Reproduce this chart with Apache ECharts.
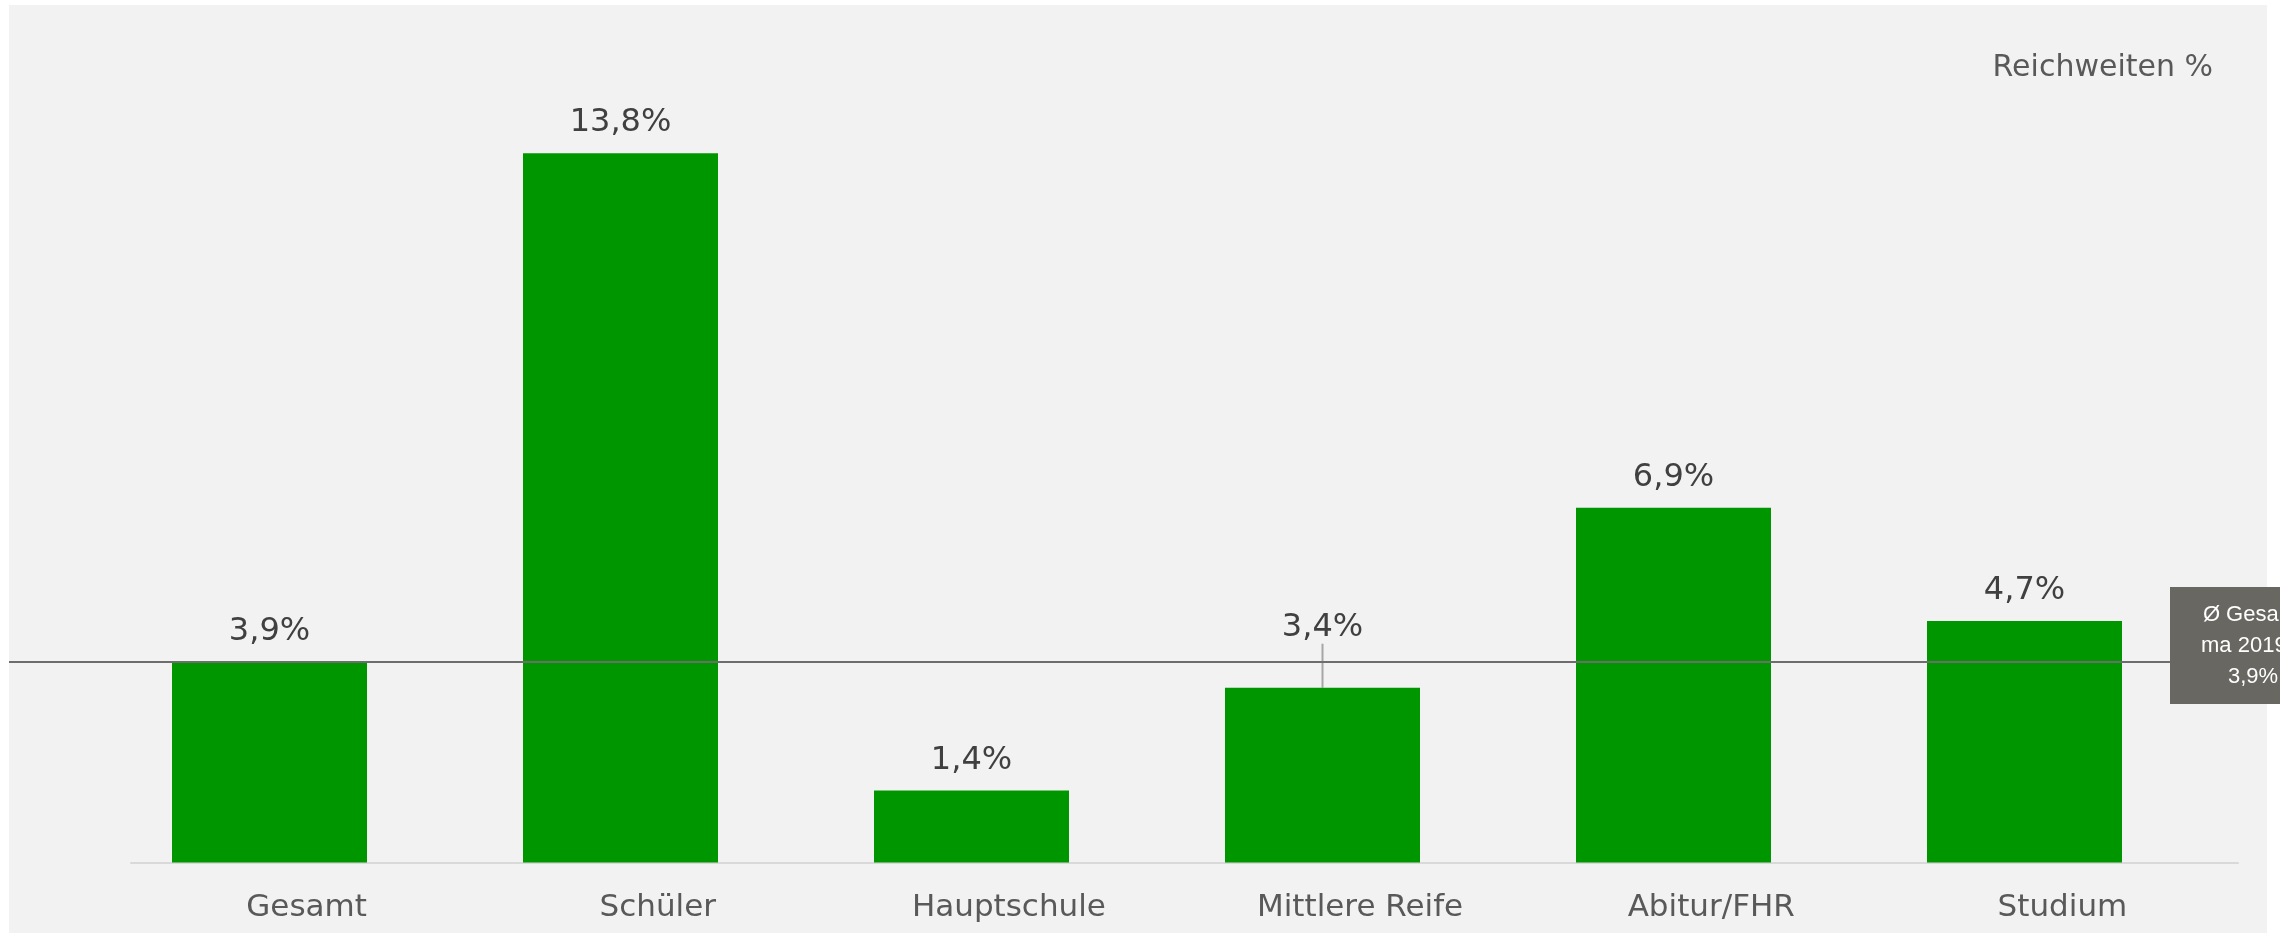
<!DOCTYPE html>
<html>
<head>
<meta charset="utf-8">
<script src="https://cdn.jsdelivr.net/npm/echarts@6/dist/echarts.min.js"></script>
<style>
  html, body { margin: 0; padding: 0; background: #ffffff; }
  #chart { width: 2280px; height: 934px; }
</style>
</head>
<body>
<div id="chart"></div>
<script>
// Reichweiten nach Bildung
const categories = ['Gesamt', 'Schüler', 'Hauptschule', 'Mittlere Reife', 'Abitur/FHR', 'Studium'];
const reach = [3.9, 13.8, 1.4, 3.4, 6.9, 4.7];
const averageValue = 3.9;
const averageText = ['Ø Gesamt', 'ma 2019 II'];
const unitTitle = 'Reichweiten %';
const liftedLabel = 'Mittlere Reife';

const fmt = v => v.toFixed(1).replace('.', ',') + '%';
const textFont = 'DejaVu Sans';

// the label of the lifted category gets a leader line down to its bar
const barData = reach.map((v, i) => {
  if (categories[i] === liftedLabel) {
    return {
      value: v,
      labelLine: { show: true, lineStyle: { color: '#a6a6a6', width: 2 } }
    };
  }
  return v;
});

const chart = echarts.init(document.getElementById('chart'), null, { renderer: 'canvas' });

chart.setOption({
  animation: false,
  backgroundColor: 'transparent',
  textStyle: { fontFamily: textFont },
  title: {
    text: unitTitle,
    right: 67,
    top: 53,
    padding: 0,
    textStyle: { fontFamily: textFont, fontSize: 30, fontWeight: 'normal', color: '#595959' }
  },
  graphic: [{
    type: 'rect',
    z: -10,
    shape: { x: 9, y: 5, width: 2258, height: 928 },
    style: { fill: '#f2f2f2' },
    silent: true
  }],
  grid: [
    { left: 94, right: 80, top: 91.5, bottom: 71.5 },
    { left: 131, right: 42, top: 91.5, bottom: 71.5 }
  ],
  xAxis: [
    { type: 'category', gridIndex: 0, data: categories, show: false },
    {
      type: 'category', gridIndex: 1, data: categories,
      axisLine: { show: true, lineStyle: { color: '#d9d9d9', width: 2 } },
      axisTick: { show: false },
      axisLabel: { fontFamily: textFont, fontSize: 31, color: '#595959', margin: 30, interval: 0 }
    }
  ],
  yAxis: [
    { type: 'value', gridIndex: 0, min: 0, max: 15, show: false, splitLine: { show: false } },
    { type: 'value', gridIndex: 1, min: 0, max: 15, show: false, splitLine: { show: false } }
  ],
  series: [{
    type: 'bar',
    xAxisIndex: 0,
    yAxisIndex: 0,
    data: barData,
    barWidth: 195,
    clip: false,
    itemStyle: { color: '#009600' },
    label: {
      show: true,
      position: 'top',
      distance: 14,
      fontFamily: textFont,
      fontSize: 32,
      color: '#404040',
      formatter: p => fmt(p.value)
    },
    labelLayout: p => (categories[p.dataIndex] === liftedLabel ? { dy: -30 } : {}),
    emphasis: { disabled: true },
    markLine: {
      silent: true,
      symbol: ['none', 'none'],
      label: { show: false },
      lineStyle: { color: '#6d6d6d', width: 2, type: 'solid' },
      emphasis: { disabled: true },
      data: [[
        { xAxis: 0, yAxis: averageValue, x: 9 },
        { xAxis: 5, yAxis: averageValue, x: 2170 }
      ]]
    },
    markPoint: {
      silent: true,
      symbol: 'rect',
      symbolSize: [166, 117],
      symbolOffset: [83, -16.5],
      itemStyle: { color: '#686762' },
      label: {
        show: true,
        position: 'inside',
        color: '#ffffff',
        fontFamily: 'Liberation Sans',
        fontSize: 22,
        lineHeight: 31,
        align: 'center',
        formatter: () => averageText.join('\n') + '\n' + fmt(averageValue)
      },
      emphasis: { disabled: true },
      data: [{ xAxis: 5, yAxis: averageValue, x: 2170, value: averageValue }]
    }
  }]
});
</script>
</body>
</html>
